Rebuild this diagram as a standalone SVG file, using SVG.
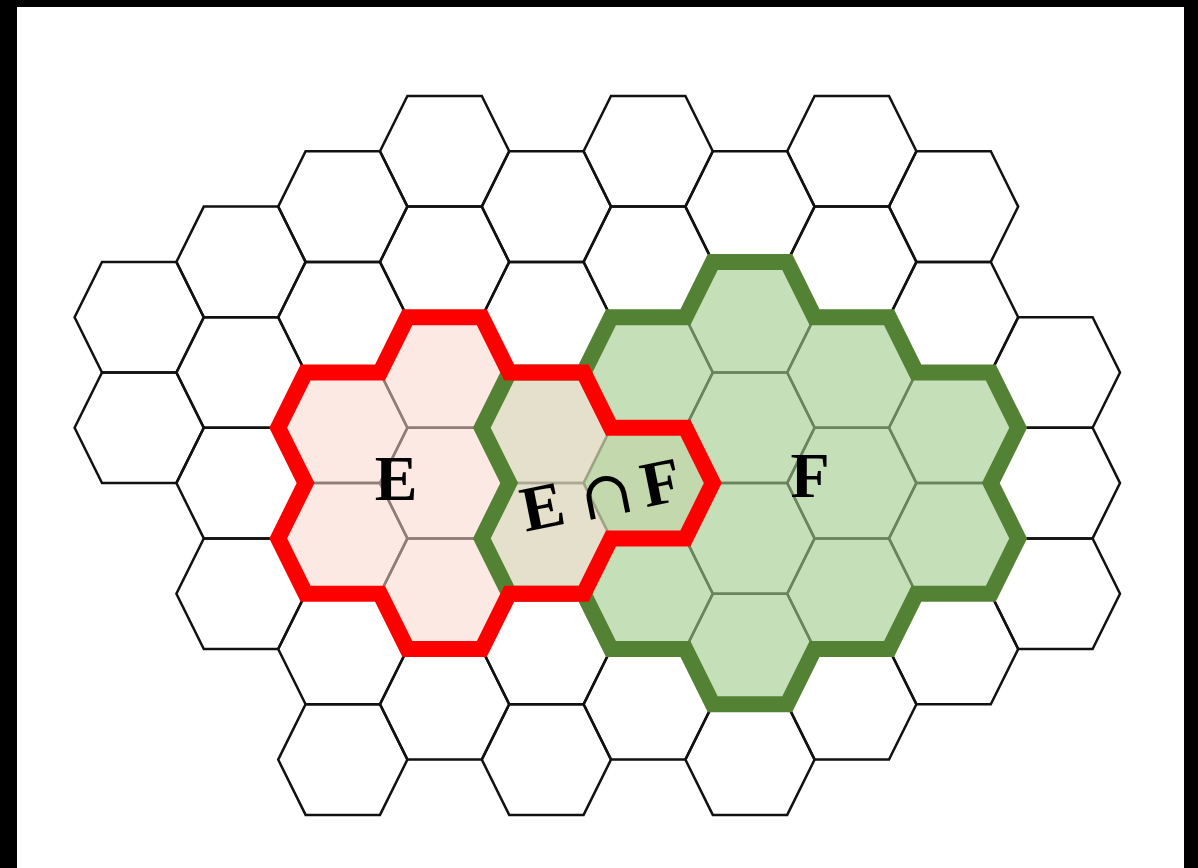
<svg xmlns="http://www.w3.org/2000/svg" xmlns:xlink="http://www.w3.org/1999/xlink" width="1198" height="868" viewBox="0 0 1198 868">
<style>
.hex{fill:none;stroke:#111;stroke-width:2.5}
.lbl{font-family:"Liberation Serif",serif;font-weight:bold;font-size:64px;fill:#000}
.cap{font-family:"DejaVu Serif",serif;font-weight:normal;font-size:64px;fill:#000}
.ef{fill:#ddd7bb;fill-opacity:0.77;fill-rule:evenodd}
.eo{fill:#fad7cc;fill-opacity:0.55;fill-rule:evenodd}
.fo{fill:#a2cd8d;fill-opacity:0.62;fill-rule:evenodd}
.out{fill:none;stroke-width:16;stroke-linejoin:miter}
</style>
<defs>
<path id="hx" d="M-37.2,-55.3 L37.2,-55.3 L64.6,0 L37.2,55.3 L-37.2,55.3 L-64.6,0Z"/>
</defs>
<rect x="0" y="0" width="1198" height="868" fill="#000"/>
<rect x="17" y="7" width="1167" height="861" fill="#fff"/>
<g id="grid" class="hex">
<use xlink:href="#hx" x="139.2" y="317.2"/><use xlink:href="#hx" x="139.2" y="427.8"/>
<use xlink:href="#hx" x="241" y="261.9"/><use xlink:href="#hx" x="241" y="372.5"/><use xlink:href="#hx" x="241" y="483.1"/><use xlink:href="#hx" x="241" y="593.7"/>
<use xlink:href="#hx" x="342.8" y="206.6"/><use xlink:href="#hx" x="342.8" y="317.2"/><use xlink:href="#hx" x="342.8" y="427.8"/><use xlink:href="#hx" x="342.8" y="538.4"/><use xlink:href="#hx" x="342.8" y="649"/><use xlink:href="#hx" x="342.8" y="759.6"/>
<use xlink:href="#hx" x="444.6" y="151.3"/><use xlink:href="#hx" x="444.6" y="261.9"/><use xlink:href="#hx" x="444.6" y="372.5"/><use xlink:href="#hx" x="444.6" y="483.1"/><use xlink:href="#hx" x="444.6" y="593.7"/><use xlink:href="#hx" x="444.6" y="704.3"/>
<use xlink:href="#hx" x="546.4" y="206.6"/><use xlink:href="#hx" x="546.4" y="317.2"/><use xlink:href="#hx" x="546.4" y="427.8"/><use xlink:href="#hx" x="546.4" y="538.4"/><use xlink:href="#hx" x="546.4" y="649"/><use xlink:href="#hx" x="546.4" y="759.6"/>
<use xlink:href="#hx" x="648.2" y="151.3"/><use xlink:href="#hx" x="648.2" y="261.9"/><use xlink:href="#hx" x="648.2" y="372.5"/><use xlink:href="#hx" x="648.2" y="483.1"/><use xlink:href="#hx" x="648.2" y="593.7"/><use xlink:href="#hx" x="648.2" y="704.3"/>
<use xlink:href="#hx" x="750" y="206.6"/><use xlink:href="#hx" x="750" y="317.2"/><use xlink:href="#hx" x="750" y="427.8"/><use xlink:href="#hx" x="750" y="538.4"/><use xlink:href="#hx" x="750" y="649"/><use xlink:href="#hx" x="750" y="759.6"/>
<use xlink:href="#hx" x="851.8" y="151.3"/><use xlink:href="#hx" x="851.8" y="261.9"/><use xlink:href="#hx" x="851.8" y="372.5"/><use xlink:href="#hx" x="851.8" y="483.1"/><use xlink:href="#hx" x="851.8" y="593.7"/><use xlink:href="#hx" x="851.8" y="704.3"/>
<use xlink:href="#hx" x="953.6" y="206.6"/><use xlink:href="#hx" x="953.6" y="317.2"/><use xlink:href="#hx" x="953.6" y="427.8"/><use xlink:href="#hx" x="953.6" y="538.4"/><use xlink:href="#hx" x="953.6" y="649"/>
<use xlink:href="#hx" x="1055.4" y="372.5"/><use xlink:href="#hx" x="1055.4" y="483.1"/><use xlink:href="#hx" x="1055.4" y="593.7"/>
</g>
<g id="region-E">
<path class="eo" d="M407.4,317.2 L481.8,317.2 L509.2,372.5 L583.6,372.5 L611,427.8 L685.4,427.8 L712.8,483.1 L685.4,538.4 L611,538.4 L583.6,593.7 L509.2,593.7 L481.8,649 L407.4,649 L380,593.7 L305.6,593.7 L278.2,538.4 L305.6,483.1 L278.2,427.8 L305.6,372.5 L380,372.5 Z M509.2,372.5 L583.6,372.5 L611,427.8 L583.6,483.1 L611,538.4 L583.6,593.7 L509.2,593.7 L481.8,538.4 L509.2,483.1 L481.8,427.8 Z"/>
</g>
<g id="region-F">
<path class="fo" d="M712.8,261.9 L787.2,261.9 L814.6,317.2 L889,317.2 L916.4,372.5 L990.8,372.5 L1018.2,427.8 L990.8,483.1 L1018.2,538.4 L990.8,593.7 L916.4,593.7 L889,649 L814.6,649 L787.2,704.3 L712.8,704.3 L685.4,649 L611,649 L583.6,593.7 L509.2,593.7 L481.8,538.4 L509.2,483.1 L481.8,427.8 L509.2,372.5 L583.6,372.5 L611,317.2 L685.4,317.2 Z M509.2,372.5 L583.6,372.5 L611,427.8 L583.6,483.1 L611,538.4 L583.6,593.7 L509.2,593.7 L481.8,538.4 L509.2,483.1 L481.8,427.8 Z"/>
</g>
<g id="region-EF">
<path class="ef" d="M509.2,372.5 L583.6,372.5 L611,427.8 L583.6,483.1 L611,538.4 L583.6,593.7 L509.2,593.7 L481.8,538.4 L509.2,483.1 L481.8,427.8 Z"/>
</g>
<g id="connectors">
<path id="outline-F" class="out" stroke="#548235" d="M712.8,261.9 L787.2,261.9 L814.6,317.2 L889,317.2 L916.4,372.5 L990.8,372.5 L1018.2,427.8 L990.8,483.1 L1018.2,538.4 L990.8,593.7 L916.4,593.7 L889,649 L814.6,649 L787.2,704.3 L712.8,704.3 L685.4,649 L611,649 L583.6,593.7 L509.2,593.7 L481.8,538.4 L509.2,483.1 L481.8,427.8 L509.2,372.5 L583.6,372.5 L611,317.2 L685.4,317.2 Z"/>
<path id="outline-E" class="out" stroke="#ff0000" d="M407.4,317.2 L481.8,317.2 L509.2,372.5 L583.6,372.5 L611,427.8 L685.4,427.8 L712.8,483.1 L685.4,538.4 L611,538.4 L583.6,593.7 L509.2,593.7 L481.8,649 L407.4,649 L380,593.7 L305.6,593.7 L278.2,538.4 L305.6,483.1 L278.2,427.8 L305.6,372.5 L380,372.5 Z"/>
</g>
<g id="label-E"><text class="lbl" x="396" y="500" text-anchor="middle">E</text></g>
<g id="label-F"><text class="lbl" x="810" y="497" text-anchor="middle">F</text></g>
<g id="label-EF" transform="translate(601,494) rotate(-11.5)">
<text class="lbl" x="-60" y="22" text-anchor="middle">E</text>
<text class="cap" x="5" y="23" text-anchor="middle">∩</text>
<text class="lbl" x="61" y="22" text-anchor="middle">F</text>
</g>
</svg>
